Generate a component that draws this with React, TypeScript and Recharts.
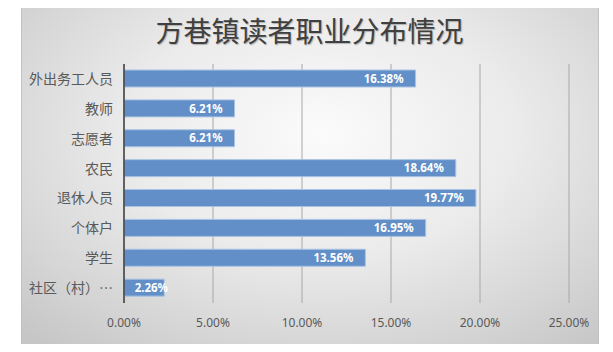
import React from "react";
import { BarChart, Bar, XAxis, YAxis, CartesianGrid, LabelList } from "recharts";

const categories = ["外出务工人员", "教师", "志愿者", "农民", "退休人员", "个体户", "学生", "社区（村）…"];
const shares = [16.38, 6.21, 6.21, 18.64, 19.77, 16.95, 13.56, 2.26];
const xTicks = [0, 5, 10, 15, 20, 25];
const title = "方巷镇读者职业分布情况";

const data = categories.map((name, i) => ({ name, value: shares[i] }));

const ValueLabel = (props: any) => {
  const { x, y, width, height, value } = props;
  const text = Number(value).toFixed(2) + "%";
  const textW = text.length * 6.6;
  const right = Math.max(x + width - 12, x + 11 + textW);
  return (
    <text
      x={right}
      y={y + height / 2}
      dy="0.36em"
      textAnchor="end"
      fill="#ffffff"
      fontFamily="'Noto Sans', 'Open Sans', sans-serif"
      fontWeight={700}
      fontSize={11.5}
    >
      {text}
    </text>
  );
};

export default function App() {
  return (
    <div style={{ position: "relative", width: 613, height: 352, margin: -8, background: "#ffffff", overflow: "hidden" }}>
      <div
        style={{
          position: "absolute",
          left: 21,
          top: 2,
          width: 576,
          height: 344,
          border: "1px solid #c2c2c2",
          background: "radial-gradient(ellipse 75% 80% at 52% 38%, #fbfbfb 0%, #ebebeb 45%, #d4d4d4 80%, #c6c6c6 100%)",
        }}
      />
      <div
        style={{
          position: "absolute",
          left: 21,
          top: 13,
          width: 577,
          textAlign: "center",
          fontFamily: "'Noto Sans CJK SC', sans-serif",
          fontSize: 28,
          lineHeight: "34px",
          color: "#404040",
          textShadow: "1px 1px 1px rgba(0,0,0,0.25)",
          letterSpacing: 0,
        }}
      >
        {title}
      </div>
      <div style={{ position: "absolute", left: 0, top: 0 }}>
        <BarChart
          width={613}
          height={352}
          data={data}
          layout="vertical"
          margin={{ top: 64, right: 44, left: 0, bottom: 19 }}
          barSize={17}
        >
          <CartesianGrid horizontal={false} vertical={true} stroke="#a8a8a8" strokeWidth={1} />
          <XAxis
            type="number"
            domain={[0, 25]}
            ticks={xTicks}
            tickFormatter={(v: number) => v.toFixed(2) + "%"}
            axisLine={false}
            tickLine={false}
            tickMargin={9}
            height={30}
            interval={0}
            tick={{ fill: "#595959", fontSize: 12, fontFamily: "'Noto Sans', sans-serif" }}
          />
          <YAxis
            type="category"
            dataKey="name"
            width={124}
            axisLine={{ stroke: "#3f3f3f", strokeWidth: 1.5 }}
            tickLine={false}
            tickSize={0}
            tickMargin={11}
            interval={0}
            tick={{ fill: "#595959", fontSize: 14, fontFamily: "'Noto Sans CJK SC', sans-serif" }}
          />
          <Bar dataKey="value" fill="#628FC7" stroke="#A9C3E3" strokeWidth={1} isAnimationActive={false}>
            <LabelList dataKey="value" content={<ValueLabel />} />
          </Bar>
        </BarChart>
      </div>
    </div>
  );
}
